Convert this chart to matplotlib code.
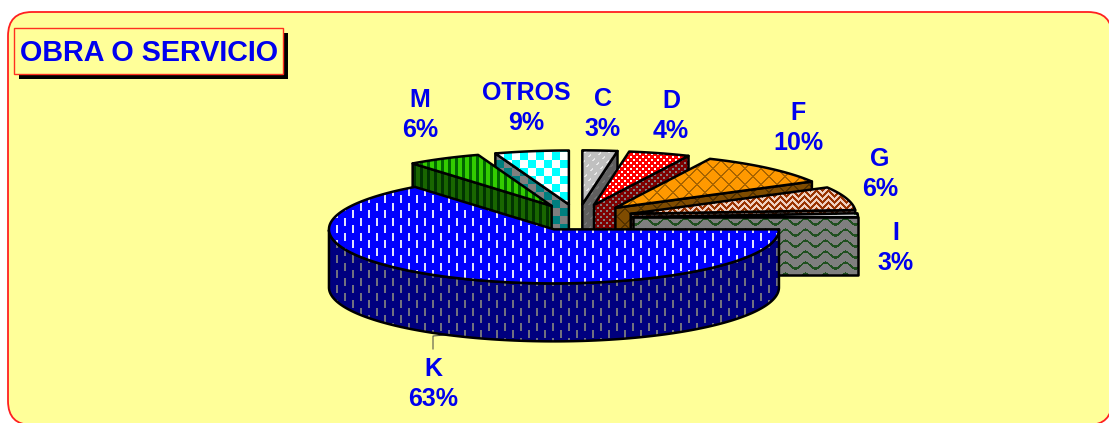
import numpy as np
import matplotlib
matplotlib.use("Agg")
import matplotlib.pyplot as plt
from matplotlib.patches import Polygon, Rectangle, FancyBboxPatch

# percentages printed on the chart
categories = ["C", "D", "F", "G", "I", "K", "M", "OTROS"]
percent_labels = [3, 4, 10, 6, 3, 63, 6, 9]
# slice sizes as they look in the picture (the printed ones add up to 104)
slice_shares = [2.5, 4.4, 10.0, 7.0, 1.1, 64.4, 5.3, 5.3]

W, H = 1109, 423
plt.rcParams["font.family"] = ["Liberation Sans", "DejaVu Sans"]

cx, cy = 578, 217.5
rx, ry = 225, 54
depth = 58
explode = 55

yy, xx = np.mgrid[0:H, 0:W]


# fill patterns, one boolean mask per slice
def dashes_diag():
    return ((xx + yy) % 8 < 2) & ((xx - yy) % 12 < 5)

def dots():
    return (xx % 6 < 2) & (yy % 6 < 2) | ((xx + 3) % 6 < 2) & ((yy + 3) % 6 < 2)

def lattice():
    return ((xx + yy) % 16 < 2) | ((xx - yy) % 16 < 2)

def zigzag():
    return (yy + np.abs((xx % 12) - 6)) % 6 < 3

def wave():
    return (yy + 3 * np.sin(xx * 2 * np.pi / 20)) % 11 < 2.4

def vdashes():
    return (xx % 8 < 2) & ((yy + 7 * (xx // 8 % 2)) % 15 < 8)

def stripes():
    return xx % 7 < 3

def checks():
    return ((xx // 8) + (yy // 8)) % 2 == 0


styles = {
    "C": ("#C0C0C0", "#E8E8E8", dashes_diag),
    "D": ("#FF0000", "#FFFFFF", dots),
    "F": ("#FF9900", "#A86400", lattice),
    "G": ("#993300", "#F0D0C0", zigzag),
    "I": ("#FFFFFF", "#40A040", wave),
    "K": ("#0000FF", "#E0E0FF", vdashes),
    "M": ("#33CC00", "#006600", stripes),
    "OTROS": ("#FFFFFF", "#00FFFF", checks),
}


def rgb(c):
    return np.array(matplotlib.colors.to_rgb(c))


def textures(name):
    bg, fg, fn = styles[name]
    m = fn()[..., None]
    top = np.where(m, rgb(fg), rgb(bg))
    return top, top * 0.5


def fill_poly(ax, pts, tex, z):
    poly = Polygon(pts, closed=True, fc="none", ec="black", lw=1.8, joinstyle="round", zorder=z + 0.5)
    ax.add_patch(poly)
    im = ax.imshow(tex, extent=(0, W, H, 0), interpolation="nearest", aspect="auto", zorder=z)
    im.set_clip_path(Polygon(pts, closed=True, transform=ax.transData))


fig = plt.figure(figsize=(W / 100, H / 100), dpi=100)
ax = fig.add_axes([0, 0, 1, 1])
ax.set_xlim(0, W)
ax.set_ylim(H, 0)
ax.axis("off")

ax.add_patch(FancyBboxPatch((30, 34), 1060, 369, boxstyle="round,pad=22,rounding_size=24",
                            fc="#FFFF99", ec="#FF2020", lw=1.3, zorder=0))

# title box with its drop shadow
ax.add_patch(Rectangle((19, 33), 269, 46, fc="black", ec="none", zorder=1))
ax.add_patch(Rectangle((14, 28), 269, 46, fc="#FFFF99", ec="#FF3020", lw=1, zorder=2))
ax.text(149, 53, "OBRA O SERVICIO", color="#0000EE", fontsize=20.7, fontweight="bold",
        ha="center", va="center", zorder=3)

# slice angles, clockwise from 12 o'clock
shares = np.array(slice_shares) / sum(slice_shares) * 360
ends = 90 - np.cumsum(shares)
starts = ends + shares
draw_order = ["OTROS", "C", "D", "M", "F", "G", "I", "K"]

z = 5
for name in draw_order:
    i = categories.index(name)
    lo, hi = ends[i], starts[i]
    mid = np.radians((lo + hi) / 2)
    ax0 = cx + explode * np.cos(mid)
    ay0 = cy - explode * ry / rx * np.sin(mid)
    top, side = textures(name)

    th = np.radians(np.linspace(lo, hi, 200))
    ex = ax0 + rx * np.cos(th)
    ey = ay0 - ry * np.sin(th)

    # outer wall, only the part that faces the viewer
    front = np.sin(th) < 0
    if front.any():
        fx, fy = ex[front], ey[front]
        pts = np.r_[np.c_[fx, fy], np.c_[fx[::-1], fy[::-1] + depth]]
        fill_poly(ax, pts, side, z)
        z += 1

    # cut faces
    for ang, show in ((lo, np.cos(np.radians(lo)) > 0), (hi, np.cos(np.radians(hi)) < 0)):
        if show:
            px = ax0 + rx * np.cos(np.radians(ang))
            py = ay0 - ry * np.sin(np.radians(ang))
            fill_poly(ax, [(ax0, ay0), (px, py), (px, py + depth), (ax0, ay0 + depth)], side, z)
            z += 1

    fill_poly(ax, np.r_[[[ax0, ay0]], np.c_[ex, ey]], top, z)
    z += 1

label_pos = {
    "C": (603, 114), "D": (671, 116), "F": (798, 128), "G": (880, 174),
    "I": (896, 248), "K": (433, 384), "M": (420, 115), "OTROS": (526, 108),
}
for name, pct in zip(categories, percent_labels):
    x, y = label_pos[name]
    ax.text(x, y, f"{name}\n{pct}%", color="#0000EE", fontsize=18, fontweight="bold",
            ha="center", va="center", linespacing=1.3, zorder=100)

# leader line of K
ax.plot([433, 433, 446], [349, 336, 335], color="#404040", lw=0.7, zorder=4)

fig.savefig("out.png", dpi=100)
